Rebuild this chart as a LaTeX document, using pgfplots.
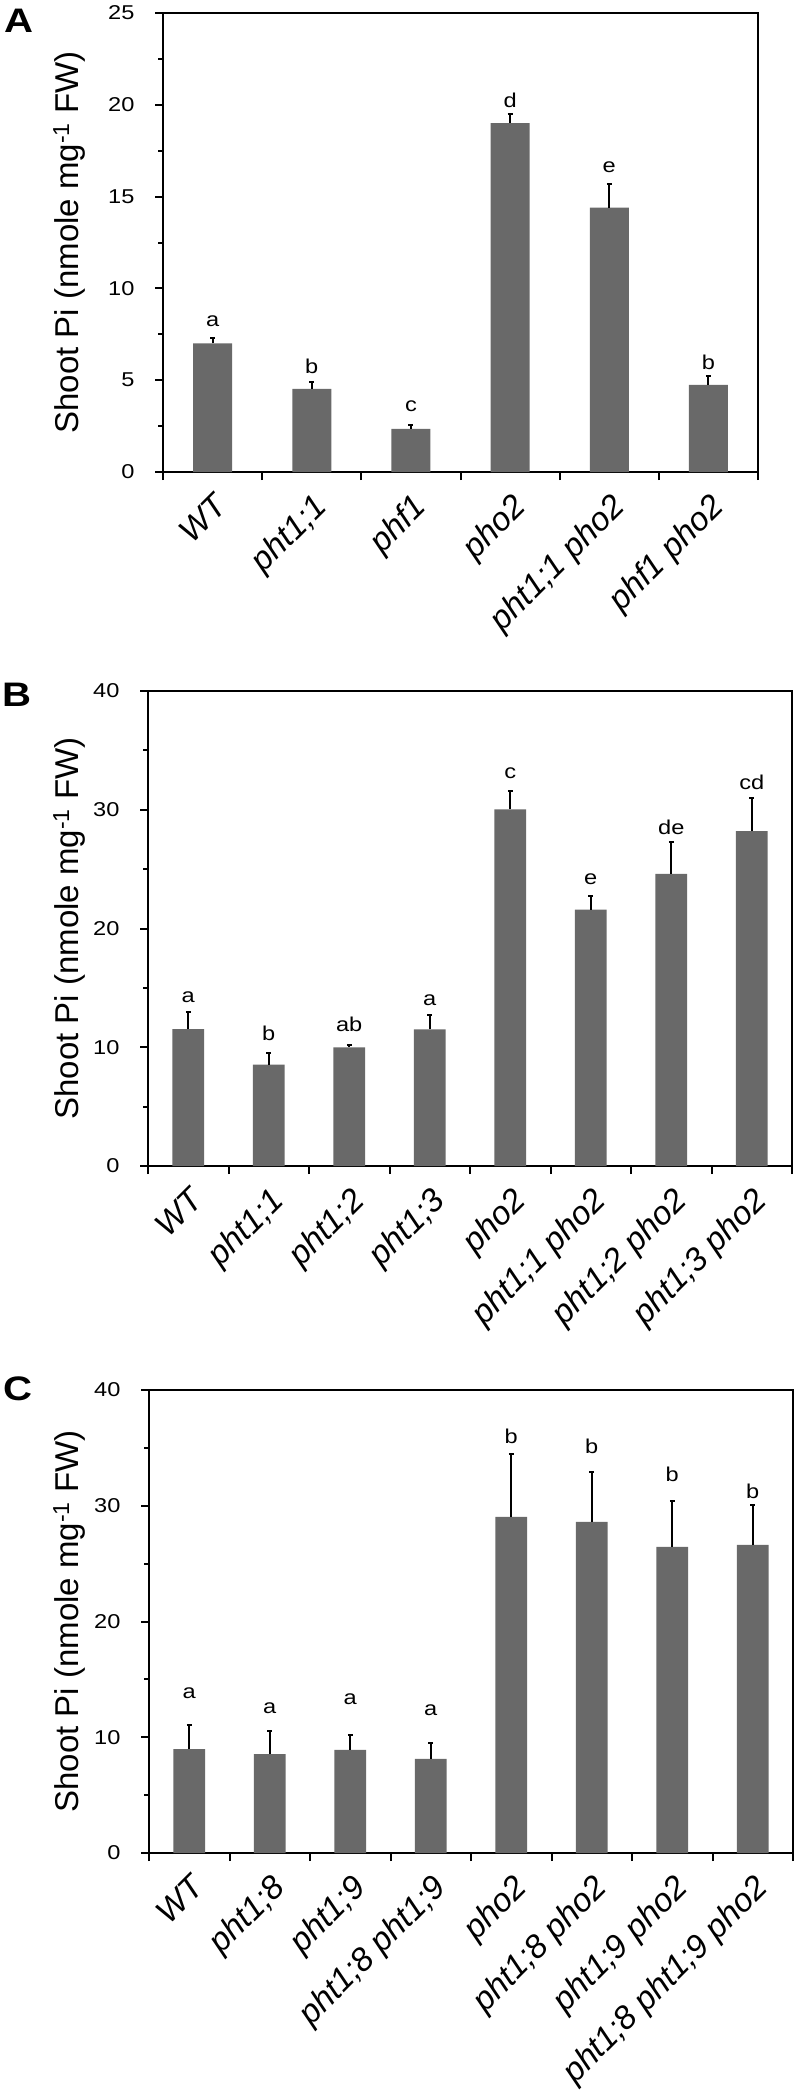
\documentclass[border=0pt]{standalone}
\usepackage{fontspec}
\setmainfont{Liberation Sans}
\newfontfamily\widefont[FakeStretch=1.18]{Liberation Sans}
\usepackage{pgfplots}
\pgfplotsset{compat=1.18}
\definecolor{barg}{RGB}{105,105,105}
\tikzset{lett/.style={font=\widefont\fontsize{20bp}{24bp}\selectfont, inner sep=0pt, anchor=center},
  plet/.style={anchor=north west, inner sep=0pt, font=\widefont\fontsize{34bp}{40bp}\selectfont\bfseries}}
\pgfplotsset{
  panel/.style={
    scale only axis,
    anchor=north west,
    ymin=0,
    axis line style={line width=2bp, black},
    tick style={line width=2bp, black},
    major tick length=8bp,
    minor tick length=5bp,
    tick align=outside,
    xtick pos=bottom,
    ytick pos=left,
    yticklabel style={font=\widefont\fontsize{20bp}{24bp}\selectfont, xshift=-17bp},
    /pgf/number format/assume math mode=true,
    ylabel style={font=\fontsize{33bp}{40bp}\selectfont, anchor=center},
    ylabel={Shoot Pi (nmole mg\textsuperscript{-1} FW)},
  },
  errb/.style={error bars/.cd, y dir=plus, y explicit,
    error bar style={line width=2bp, draw=black},
    error mark options={rotate=90, line width=2bp, draw=black, mark size=2.5bp}},
}
\begin{document}
\begin{tikzpicture}
\path[use as bounding box] (0,0) rectangle (797bp,-2096bp);
% ---------------- Panel A ----------------
\node[plet] at (4bp,-9bp) {A};
\begin{axis}[panel, at={(163bp,-13bp)}, width=595bp, height=459bp,
  xmin=-0.5, xmax=5.5, ymax=25,
  ytick={0,5,...,25}, minor ytick={2.5,7.5,...,22.5},
  xtick={-0.5,0.5,...,5.5},
  xticklabels={WT,pht1;1,phf1,pho2,pht1;1 pho2,phf1 pho2,{}},
  xticklabel style={font=\fontsize{33bp}{38bp}\selectfont\itshape, xshift=49.6bp, yshift=-7bp, rotate=45, anchor=north east},
  ylabel style={at={(axis description cs:-0.158,0.5)}},
]
\addplot[ybar, fill=barg, draw=none, bar width=39bp, errb] coordinates {
  (0,7.0) +- (0,0.3)
  (1,4.53) +- (0,0.37)
  (2,2.35) +- (0,0.21)
  (3,19.0) +- (0,0.5)
  (4,14.4) +- (0,1.26)
  (5,4.75) +- (0,0.5)
};
\node[lett] at (axis cs:0,8.19) {a};
\node[lett] at (axis cs:1,5.78) {b};
\node[lett] at (axis cs:2,3.57) {c};
\node[lett] at (axis cs:3,20.25) {d};
\node[lett] at (axis cs:4,16.62) {e};
\node[lett] at (axis cs:5,5.96) {b};
\end{axis}
% ---------------- Panel B ----------------
\node[plet] at (2bp,-683bp) {B};
\begin{axis}[panel, at={(148bp,-691bp)}, width=644bp, height=475bp,
  xmin=-0.5, xmax=7.5, ymax=40,
  ytick={0,10,...,40}, minor ytick={5,15,25,35},
  xtick={-0.5,0.5,...,7.5},
  xticklabels={WT,pht1;1,pht1;2,pht1;3,pho2,pht1;1 pho2,pht1;2 pho2,pht1;3 pho2,{}},
  xticklabel style={font=\fontsize{33bp}{38bp}\selectfont\itshape, xshift=40.25bp, yshift=-7bp, rotate=45, anchor=north east},
  ylabel style={at={(axis description cs:-0.1227,0.5)}},
]
\addplot[ybar, fill=barg, draw=none, bar width=31.6bp, errb] coordinates {
  (0,11.53) +- (0,1.43)
  (1,8.53) +- (0,1.01)
  (2,10.0) +- (0,0.17)
  (3,11.5) +- (0,1.23)
  (4,30.04) +- (0,1.57)
  (5,21.6) +- (0,1.15)
  (6,24.6) +- (0,2.7)
  (7,28.2) +- (0,2.75)
};
\node[lett] at (axis cs:0,14.22) {a};
\node[lett] at (axis cs:1,11.14) {b};
\node[lett] at (axis cs:2,11.92) {ab};
\node[lett] at (axis cs:3,14.0) {a};
\node[lett] at (axis cs:4,33.07) {c};
\node[lett] at (axis cs:5,24.15) {e};
\node[lett] at (axis cs:6,28.53) {de};
\node[lett] at (axis cs:7,32.35) {cd};
\end{axis}
% ---------------- Panel C ----------------
\node[plet] at (3bp,-1377bp) {C};
\begin{axis}[panel, at={(149bp,-1390bp)}, width=644bp, height=463bp,
  xmin=-0.5, xmax=7.5, ymax=40,
  ytick={0,10,...,40}, minor ytick={5,15,25,35},
  xtick={-0.5,0.5,...,7.5},
  xticklabels={WT,pht1;8,pht1;9,pht1;8 pht1;9,pho2,pht1;8 pho2,pht1;9 pho2,pht1;8 pht1;9 pho2,{}},
  xticklabel style={font=\fontsize{33bp}{38bp}\selectfont\itshape, xshift=40.25bp, yshift=-7bp, rotate=45, anchor=north east},
  ylabel style={at={(axis description cs:-0.1242,0.5)}},
]
\addplot[ybar, fill=barg, draw=none, bar width=31.6bp, errb] coordinates {
  (0,8.97) +- (0,2.12)
  (1,8.55) +- (0,2.0)
  (2,8.92) +- (0,1.25)
  (3,8.13) +- (0,1.37)
  (4,29.04) +- (0,5.46)
  (5,28.6) +- (0,4.3)
  (6,26.45) +- (0,3.93)
  (7,26.62) +- (0,3.45)
};
\node[lett] at (axis cs:0,13.84) {a};
\node[lett] at (axis cs:1,12.53) {a};
\node[lett] at (axis cs:2,13.31) {a};
\node[lett] at (axis cs:3,12.33) {a};
\node[lett] at (axis cs:4,35.99) {b};
\node[lett] at (axis cs:5,35.17) {b};
\node[lett] at (axis cs:6,32.7) {b};
\node[lett] at (axis cs:7,31.25) {b};
\end{axis}
\end{tikzpicture}
\end{document}
